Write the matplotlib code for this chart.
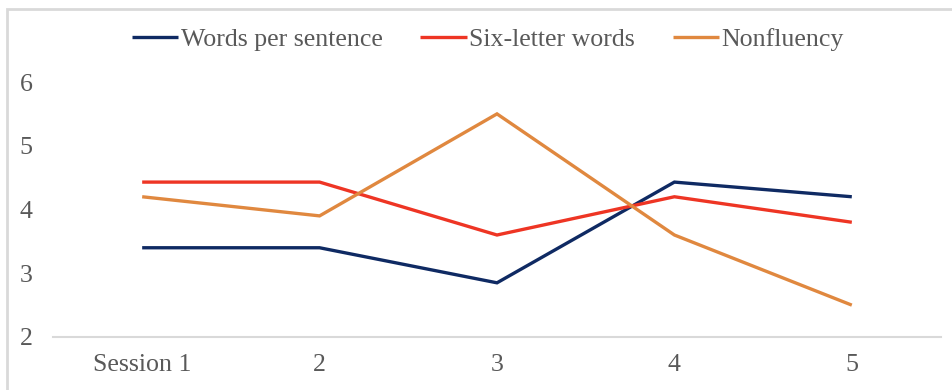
import matplotlib
matplotlib.use("Agg")
import matplotlib.pyplot as plt
from matplotlib.patches import Rectangle

sessions = ["Session 1", "2", "3", "4", "5"]
words_per_sentence = [3.4, 3.4, 2.85, 4.43, 4.2]
six_letter_words = [4.43, 4.43, 3.6, 4.2, 3.8]
nonfluency = [4.2, 3.9, 5.5, 3.6, 2.5]
y_ticks = [2, 3, 4, 5, 6]

series = [
    ("Words per sentence", words_per_sentence, "#0F2A63"),
    ("Six-letter words", six_letter_words, "#EE3524"),
    ("Nonfluency", nonfluency, "#E0883F"),
]

plt.rcParams["font.family"] = ["Liberation Serif", "DejaVu Serif"]
TEXT_COLOR = "#595959"
GRID_COLOR = "#D9D9D9"
FONT_SIZE = 18.6

fig = plt.figure(figsize=(9.53, 3.9), dpi=100)
ax = fig.add_axes([0.0561, 0.1359, 0.9308, 0.6538])

x = list(range(len(sessions)))
for name, values, color in series:
    ax.plot(x, values, color=color, linewidth=2.4, label=name,
            solid_capstyle="butt", solid_joinstyle="miter")

ax.set_xlim(-0.5, len(sessions) - 0.5)
ax.set_ylim(2, 6)
ax.set_xticks(x)
ax.set_xticklabels(sessions)
ax.set_yticks(y_ticks)
ax.tick_params(axis="both", length=0, labelsize=FONT_SIZE, labelcolor=TEXT_COLOR)
ax.tick_params(axis="x", pad=12)
ax.tick_params(axis="y", pad=15)

for side in ("top", "right", "left"):
    ax.spines[side].set_visible(False)
ax.spines["bottom"].set_color(GRID_COLOR)
ax.spines["bottom"].set_linewidth(1.5)

fig.legend(loc="center", bbox_to_anchor=(0.512, 0.9), ncol=3,
           frameon=False, fontsize=FONT_SIZE, labelcolor=TEXT_COLOR,
           handlelength=1.8, handletextpad=0.1, columnspacing=1.45)

# chart border, runs off the right and bottom edges
fig.patches.append(Rectangle((0.0073, -0.05), 1.1, 1.027, transform=fig.transFigure,
                             fill=False, edgecolor=GRID_COLOR, linewidth=2))

fig.savefig("out.png", dpi=100)
